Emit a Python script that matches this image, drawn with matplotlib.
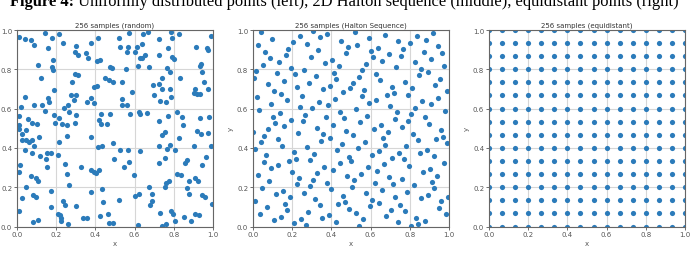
import matplotlib
matplotlib.use('Agg')
import matplotlib.pyplot as plt
import numpy as np

## data
# left panel: 256 uniformly distributed points
random_x = [
    0.008, 0.042, 0.072, 0.085, 0.145, 0.178, 0.213, 0.233, 0.157, 0.300,
    0.375, 0.415, 0.297, 0.313, 0.353, 0.363, 0.185, 0.107, 0.177, 0.183,
    0.120, 0.297, 0.310, 0.280, 0.410, 0.422, 0.393, 0.408, 0.450, 0.467,
    0.492, 0.473, 0.485, 0.043, 0.187, 0.158, 0.163, 0.130, 0.085, 0.022,
    0.275, 0.303, 0.290, 0.357, 0.378, 0.393, 0.242, 0.258, 0.142, 0.267,
    0.012, 0.058, 0.078, 0.103, 0.188, 0.195, 0.213, 0.228, 0.257, 0.298,
    0.303, 0.420, 0.427, 0.428, 0.458, 0.472, 0.010,
    0.668, 0.569, 0.520, 0.642, 0.785, 0.791, 0.829, 0.727, 0.639, 0.610,
    0.603, 0.566, 0.559, 0.527, 0.769, 0.651, 0.639, 0.629, 0.724, 0.789,
    0.800, 0.990, 0.914, 0.968, 0.975, 0.937, 0.932, 0.617, 0.673, 0.558,
    0.763, 0.783, 0.942, 0.534, 0.742, 0.831, 0.693, 0.727, 0.739, 0.783,
    0.585, 0.700, 0.786, 0.910, 0.905, 0.917, 0.934, 0.954, 0.973, 0.537,
    0.729, 0.758, 0.534, 0.561, 0.936, 0.575, 0.622, 0.630, 0.663, 0.725,
    0.771, 0.815, 0.842, 0.846, 0.980,
    0.741, 0.753, 0.824, 0.919, 0.939, 0.975, 0.527, 0.566, 0.629, 0.724,
    0.764, 0.783, 0.808, 0.905, 0.992, 0.496, 0.754, 0.547, 0.569, 0.727,
    0.856, 0.866, 0.946, 0.966, 0.598, 0.815, 0.839, 0.759, 0.778, 0.753,
    0.673, 0.910, 0.922, 0.880, 0.869, 0.602, 0.624, 0.690, 0.688, 0.678,
    0.876, 0.944, 0.959, 0.520, 0.993, 0.729, 0.788, 0.798, 0.851, 0.907,
    0.931, 0.805, 0.890, 0.619, 0.742, 0.758,
    0.012, 0.027, 0.047, 0.027, 0.044, 0.059, 0.042, 0.077, 0.076, 0.086,
    0.114, 0.118, 0.013, 0.012, 0.071, 0.096, 0.108, 0.047, 0.024, 0.010,
    0.084, 0.096, 0.081, 0.109, 0.151, 0.146, 0.151, 0.173, 0.213, 0.207,
    0.176, 0.171, 0.210, 0.218, 0.224, 0.225, 0.235, 0.244, 0.261, 0.244,
    0.255, 0.266, 0.257, 0.299, 0.326, 0.338, 0.358, 0.376, 0.380, 0.393,
    0.403, 0.380, 0.420, 0.415, 0.435, 0.434, 0.437, 0.425, 0.464, 0.467,
    0.490, 0.490,
]
random_y = [
    0.966, 0.954, 0.947, 0.922, 0.986, 0.961, 0.980, 0.934, 0.907, 0.917,
    0.934, 0.958, 0.886, 0.873, 0.881, 0.859, 0.849, 0.824, 0.810, 0.795,
    0.754, 0.775, 0.771, 0.737, 0.840, 0.849, 0.710, 0.715, 0.758, 0.746,
    0.737, 0.810, 0.807, 0.659, 0.693, 0.653, 0.636, 0.620, 0.620, 0.608,
    0.669, 0.669, 0.644, 0.636, 0.653, 0.627, 0.602, 0.617, 0.588, 0.583,
    0.564, 0.549, 0.527, 0.524, 0.569, 0.529, 0.553, 0.520, 0.519, 0.525,
    0.568, 0.544, 0.575, 0.520, 0.520, 0.571, 0.517,
    0.992, 0.985, 0.958, 0.981, 0.988, 0.961, 0.981, 0.956, 0.929, 0.914,
    0.890, 0.915, 0.888, 0.914, 0.910, 0.875, 0.859, 0.856, 0.873, 0.864,
    0.851, 0.971, 0.912, 0.910, 0.900, 0.829, 0.815, 0.815, 0.810, 0.803,
    0.807, 0.788, 0.785, 0.737, 0.756, 0.754, 0.720, 0.727, 0.698, 0.702,
    0.686, 0.671, 0.658, 0.702, 0.681, 0.676, 0.675, 0.736, 0.702, 0.649,
    0.637, 0.634, 0.620, 0.619, 0.554, 0.575, 0.585, 0.575, 0.576, 0.537,
    0.563, 0.581, 0.559, 0.515, 0.559,
    0.468, 0.480, 0.448, 0.486, 0.470, 0.477, 0.390, 0.387, 0.383, 0.410,
    0.392, 0.417, 0.390, 0.409, 0.412, 0.346, 0.348, 0.305, 0.330, 0.322,
    0.322, 0.336, 0.312, 0.353, 0.264, 0.267, 0.261, 0.223, 0.233, 0.200,
    0.201, 0.249, 0.230, 0.230, 0.196, 0.157, 0.164, 0.167, 0.129, 0.109,
    0.164, 0.160, 0.148, 0.133, 0.112, 0.068, 0.077, 0.065, 0.046, 0.065,
    0.060, 0.026, 0.026, 0.009, 0.003, 0.015,
    0.494, 0.472, 0.489, 0.441, 0.441, 0.429, 0.390, 0.373, 0.441, 0.412,
    0.458, 0.359, 0.312, 0.276, 0.256, 0.245, 0.233, 0.199, 0.147, 0.080,
    0.158, 0.152, 0.022, 0.031, 0.302, 0.341, 0.373, 0.376, 0.428, 0.366,
    0.182, 0.100, 0.063, 0.056, 0.041, 0.029, 0.131, 0.109, 0.015, 0.319,
    0.267, 0.211, 0.460, 0.106, 0.305, 0.041, 0.044, 0.455, 0.290, 0.279,
    0.274, 0.177, 0.290, 0.404, 0.411, 0.191, 0.124, 0.051, 0.063, 0.020,
    0.425, 0.020,
]

# middle panel: first 256 Halton points (base 2 / base 3), as numerators
halton_x_256ths = [
    128, 64, 192, 32, 160, 96, 224, 16, 144, 80, 208, 48, 176, 112, 240,
    8, 136, 72, 200, 40, 168, 104, 232, 24, 152, 88, 216, 56, 184, 120, 248,
    4, 132, 68, 196, 36, 164, 100, 228, 20, 148, 84, 212, 52, 180, 116, 244,
    12, 140, 76, 204, 44, 172, 108, 236, 28, 156, 92, 220, 60, 188, 124, 252,
    2, 130, 66, 194, 34, 162, 98, 226, 18, 146, 82, 210, 50, 178, 114, 242,
    10, 138, 74, 202, 42, 170, 106, 234, 26, 154, 90, 218, 58, 186, 122, 250,
    6, 134, 70, 198, 38, 166, 102, 230, 22, 150, 86, 214, 54, 182, 118, 246,
    14, 142, 78, 206, 46, 174, 110, 238, 30, 158, 94, 222, 62, 190, 126, 254,
    1, 129, 65, 193, 33, 161, 97, 225, 17, 145, 81, 209, 49, 177, 113, 241,
    9, 137, 73, 201, 41, 169, 105, 233, 25, 153, 89, 217, 57, 185, 121, 249,
    5, 133, 69, 197, 37, 165, 101, 229, 21, 149, 85, 213, 53, 181, 117, 245,
    13, 141, 77, 205, 45, 173, 109, 237, 29, 157, 93, 221, 61, 189, 125, 253,
    3, 131, 67, 195, 35, 163, 99, 227, 19, 147, 83, 211, 51, 179, 115, 243,
    11, 139, 75, 203, 43, 171, 107, 235, 27, 155, 91, 219, 59, 187, 123, 251,
    7, 135, 71, 199, 39, 167, 103, 231, 23, 151, 87, 215, 55, 183, 119, 247,
    15, 143, 79, 207, 47, 175, 111, 239, 31, 159, 95, 223, 63, 191, 127, 255,
    0.5,
]
halton_y_729ths = [
    243, 486, 81, 324, 567, 162, 405, 648, 27, 270, 513, 108, 351, 594, 189,
    432, 675, 54, 297, 540, 135, 378, 621, 216, 459, 702,
    9, 252, 495, 90, 333, 576, 171, 414, 657, 36, 279, 522, 117, 360, 603,
    198, 441, 684, 63, 306, 549, 144, 387, 630, 225, 468, 711,
    18, 261, 504, 99, 342, 585, 180, 423, 666, 45, 288, 531, 126, 369, 612,
    207, 450, 693, 72, 315, 558, 153, 396, 639, 234, 477, 720,
    3, 246, 489, 84, 327, 570, 165, 408, 651, 30, 273, 516, 111, 354, 597,
    192, 435, 678, 57, 300, 543, 138, 381, 624, 219, 462, 705,
    12, 255, 498, 93, 336, 579, 174, 417, 660, 39, 282, 525, 120, 363, 606,
    201, 444, 687, 66, 309, 552, 147, 390, 633, 228, 471, 714,
    21, 264, 507, 102, 345, 588, 183, 426, 669, 48, 291, 534, 129, 372, 615,
    210, 453, 696, 75, 318, 561, 156, 399, 642, 237, 480, 723,
    6, 249, 492, 87, 330, 573, 168, 411, 654, 33, 276, 519, 114, 357, 600,
    195, 438, 681, 60, 303, 546, 141, 384, 627, 222, 465, 708,
    15, 258, 501, 96, 339, 582, 177, 420, 663, 42, 285, 528, 123, 366, 609,
    204, 447, 690, 69, 312, 555, 150, 393, 636, 231, 474, 717,
    24, 267, 510, 105, 348, 591, 186, 429, 672, 51, 294, 537, 132, 375, 618,
    213, 456, 699, 78, 321, 564, 159, 402, 645, 240, 483, 726,
    1, 244, 487, 82, 325, 568, 163, 406, 649, 28, 271, 514, 109, 352,
]

# right panel: 16 x 16 grid levels
grid_levels = [0.0, 0.0667, 0.1333, 0.2, 0.2667, 0.3333, 0.4, 0.4667,
               0.5333, 0.6, 0.6667, 0.7333, 0.8, 0.8667, 0.9333, 1.0]

titles = ['256 samples (random)', '256 samples (Halton Sequence)',
          '256 samples (equidistant)']
caption_bold = 'Figure 4:'
caption_rest = ' Uniformly distributed points (left), 2D Halton sequence (middle), equidistant points (right)'
ticks = [0.0, 0.2, 0.4, 0.6, 0.8, 1.0]


def setup_axes(ax, title):
    ax.set_xlim(0, 1)
    ax.set_ylim(0, 1)
    ax.set_xticks(ticks)
    ax.set_yticks(ticks)
    ax.set_xticklabels(['%.1f' % t for t in ticks])
    ax.set_yticklabels(['%.1f' % t for t in ticks])
    ax.tick_params(labelsize=5.0, colors='#555555', length=2, width=0.6, pad=1.5)
    ax.grid(True, color='#d6d6d6', linewidth=0.8)
    ax.set_axisbelow(True)
    for s in ax.spines.values():
        s.set_color('#666666')
        s.set_linewidth(0.8)
    ax.set_title(title, fontsize=5.0, color='#333333', pad=2.5)
    ax.set_xlabel('x', fontsize=5.0, color='#555555', labelpad=2)
    ax.set_ylabel('y', fontsize=5.0, color='#555555', labelpad=2)


fig = plt.figure(figsize=(6.9, 2.55), dpi=100)
lefts = [17 / 690, 253 / 690, 489 / 690]
axes = [fig.add_axes([l, 27.5 / 255, 196 / 690, 196.5 / 255]) for l in lefts]

color = '#2b7bba'
msize = 14

hx = [v / 256 for v in halton_x_256ths]
hy = [v / 729 for v in halton_y_729ths]
gx, gy = np.meshgrid(grid_levels, grid_levels)

axes[0].scatter(random_x, random_y, s=msize, color=color, linewidths=0)
axes[1].scatter(hx, hy, s=msize, color=color, linewidths=0)
axes[2].scatter(gx.ravel(), gy.ravel(), s=msize, color=color, linewidths=0)

for ax, t in zip(axes, titles):
    setup_axes(ax, t)

## caption, cut off at the top of the picture as in the original page
cap = fig.text(0.014, 1 - 6.5 / 255, caption_bold, fontsize=11.9,
               family='Liberation Serif', weight='bold', va='baseline')
fig.canvas.draw()
bb = cap.get_window_extent()
fig.text(bb.x1 / fig.bbox.width, 1 - 6.5 / 255, caption_rest, fontsize=11.9,
         family='Liberation Serif', va='baseline')

fig.savefig('out.png', dpi=100)
